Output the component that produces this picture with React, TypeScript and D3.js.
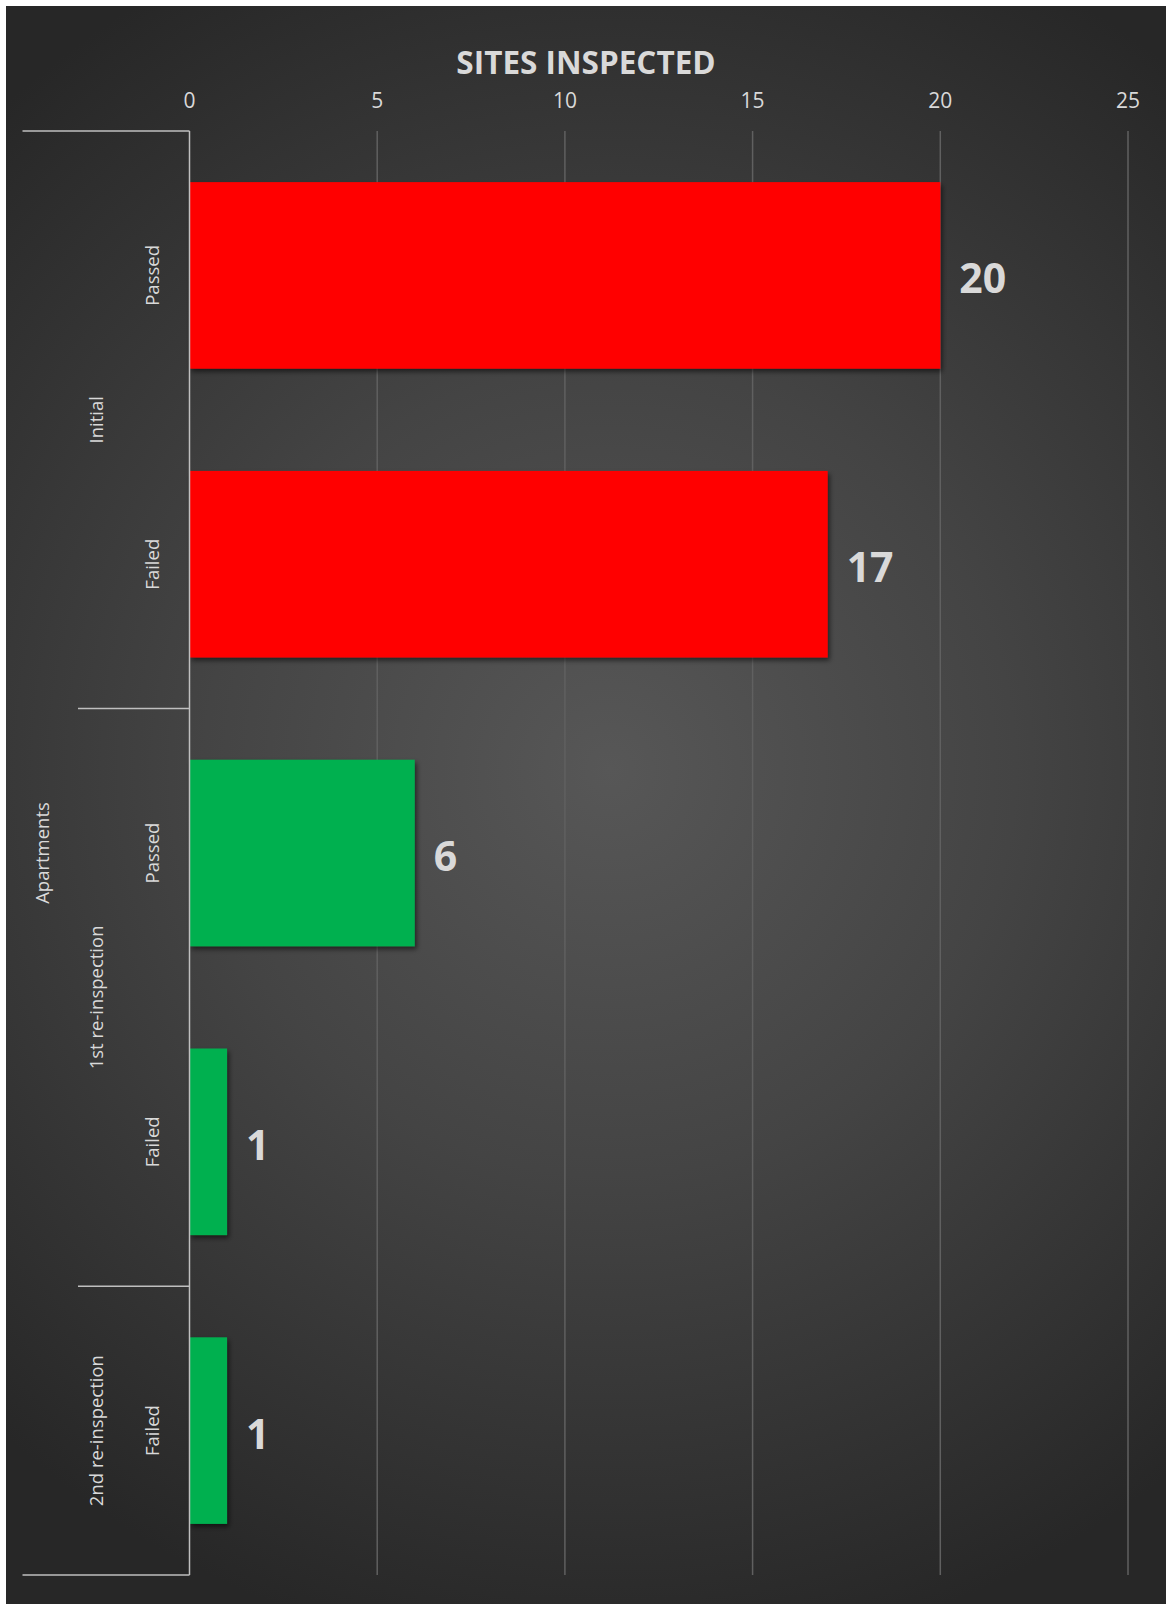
import React from "react";
import * as d3 from "d3";

const categories = ["Passed", "Failed", "Passed", "Failed", "Failed"];
const stages = ["Initial", "Initial", "1st re-inspection", "1st re-inspection", "2nd re-inspection"];
const values = [20, 17, 6, 1, 1];
const stageNames = ["Initial", "1st re-inspection", "2nd re-inspection"];
const stageColors = ["#ff0000", "#00b050", "#00b050"];
const topGroup = "Apartments";
const xTicks = [0, 5, 10, 15, 20, 25];
const title = "SITES INSPECTED";

const W = 1169;
const H = 1606;
const FONT = "'Open Sans', 'DejaVu Sans', sans-serif";

export default function App() {
  const chartL = 6, chartT = 6, chartR = 1166, chartB = 1604;
  const plotL = 189.5, plotR = 1128, plotT = 131, plotB = 1575;
  const x = d3.scaleLinear().domain([0, 25]).range([plotL, plotR]);
  const idx = categories.map((_, i) => String(i));
  const y = d3.scaleBand<string>().domain(idx).range([plotT, plotB]).paddingInner(0.354).paddingOuter(0.177);
  const step = y.step();
  const color = d3.scaleOrdinal<string, string>().domain(stageNames).range(stageColors);

  const groups = stageNames.map((name) => {
    const ids = stages.map((s, i) => (s === name ? i : -1)).filter((i) => i >= 0);
    const start = plotT + Math.min(...ids) * step;
    const end = plotT + (Math.max(...ids) + 1) * step;
    return { name, start, end };
  });

  const textCol = "#d9d9d9";
  const lvl1X = 151.6, lvl2X = 95, lvl3X = 41;
  const outerX = 22.5, innerX = 78;

  return (
    <svg width={W} height={H} style={{ position: "absolute", left: 0, top: 0 }}>
      <defs>
        <radialGradient id="bg" gradientUnits="userSpaceOnUse" cx={610} cy={770} r={900}>
          <stop offset="0" stopColor="#575757" />
          <stop offset="0.45" stopColor="#444444" />
          <stop offset="1" stopColor="#272727" />
        </radialGradient>
        <filter id="shadow" x="-10%" y="-10%" width="130%" height="130%">
          <feDropShadow dx="2" dy="3" stdDeviation="2.5" floodColor="#000" floodOpacity="0.55" />
        </filter>
      </defs>
      <rect x={0} y={0} width={W} height={H} fill="#ffffff" />
      <rect x={chartL} y={chartT} width={chartR - chartL} height={chartB - chartT} fill="url(#bg)" />

      <text x={(chartL + chartR) / 2} y={61.5} textAnchor="middle" dominantBaseline="central"
        fill={textCol} fontFamily={FONT} fontWeight={700} fontSize={31.5}>{title}</text>

      {xTicks.filter((t) => t > 0).map((t) => (
        <line key={"g" + t} x1={x(t)} x2={x(t)} y1={plotT} y2={plotB} stroke="#606060" strokeWidth={1.5} />
      ))}
      {xTicks.map((t) => (
        <text key={"t" + t} x={x(t)} y={99.5} textAnchor="middle" dominantBaseline="central"
          fill={textCol} fontFamily={FONT} fontSize={21}>{t}</text>
      ))}

      {values.map((v, i) => (
        <rect key={"b" + i} x={x(0)} y={y(String(i))} width={x(v) - x(0)} height={y.bandwidth()}
          fill={color(stages[i])} filter="url(#shadow)" />
      ))}
      {values.map((v, i) => (
        <text key={"v" + i} x={x(v) + 19} y={(y(String(i)) as number) + y.bandwidth() / 2 + 2}
          dominantBaseline="central" fill={textCol} fontFamily={FONT} fontWeight={700} fontSize={41}>{v}</text>
      ))}

      <line x1={plotL} x2={plotL} y1={plotT} y2={plotB} stroke="#bfbfbf" strokeWidth={1.5} />
      <line x1={outerX} x2={plotL} y1={plotT} y2={plotT} stroke="#bfbfbf" strokeWidth={1.5} />
      <line x1={outerX} x2={plotL} y1={plotB} y2={plotB} stroke="#bfbfbf" strokeWidth={1.5} />
      {groups.slice(1).map((g) => (
        <line key={"gl" + g.name} x1={innerX} x2={plotL} y1={g.start} y2={g.start} stroke="#bfbfbf" strokeWidth={1.5} />
      ))}

      {categories.map((c, i) => {
        const cy = plotT + (i + 0.5) * step;
        return (
          <text key={"c" + i} transform={`translate(${lvl1X},${cy}) rotate(-90)`} textAnchor="middle"
            dominantBaseline="central" fill={textCol} fontFamily={FONT} fontSize={18.5}>{c}</text>
        );
      })}
      {groups.map((g) => (
        <text key={"s" + g.name} transform={`translate(${lvl2X},${(g.start + g.end) / 2}) rotate(-90)`} textAnchor="middle"
          dominantBaseline="central" fill={textCol} fontFamily={FONT} fontSize={18.5}>{g.name}</text>
      ))}
      <text transform={`translate(${lvl3X},${(plotT + plotB) / 2}) rotate(-90)`} textAnchor="middle"
        dominantBaseline="central" fill={textCol} fontFamily={FONT} fontSize={18.5}>{topGroup}</text>
    </svg>
  );
}
